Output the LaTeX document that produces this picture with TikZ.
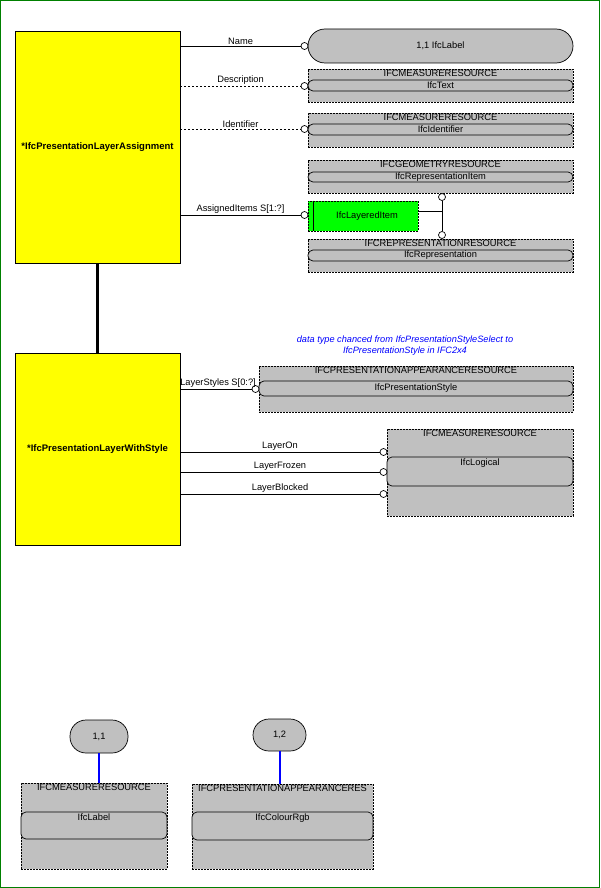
\documentclass[tikz,border=0pt]{standalone}
\usepackage{fontspec}
\setmainfont{Liberation Sans}
\usepackage{tikz}
\usetikzlibrary{calc}
\definecolor{ifcyellow}{RGB}{255,255,0}
\definecolor{ifcgray}{RGB}{192,192,192}
\definecolor{ifcgreen}{RGB}{0,255,0}
\definecolor{framegreen}{RGB}{0,128,0}
\definecolor{noteblue}{RGB}{0,0,255}
\tikzset{
         entity/.style={draw=black,fill=ifcyellow,line width=0.9pt,minimum width=165,inner sep=0,
                        font=\fontsize{9.5}{11}\selectfont\bfseries},
         typebox/.style={draw=black,fill=ifcgray,dash pattern=on 2pt off 1pt,line width=0.7pt,inner sep=0},
         hdr/.style={anchor=north,inner sep=1pt,font=\fontsize{9.3}{10}\selectfont},
         bar/.style={draw=black,fill=ifcgray,rounded corners=5,line width=0.7pt,inner sep=0,
                     font=\fontsize{9.3}{10}\selectfont},
         bartext/.style={anchor=north,inner sep=1.5pt,font=\fontsize{9.3}{10}\selectfont},
         pill/.style={draw=black,fill=ifcgray,line width=0.7pt,inner sep=0,font=\fontsize{9.3}{10}\selectfont},
         endpt/.style={circle,draw=black,fill=white,inner sep=0,minimum size=7,line width=0.7pt},
         attr/.style={above,inner sep=1.5pt,font=\fontsize{9.3}{10}\selectfont},
         rel/.style={line width=0.8pt},
         optrel/.style={line width=0.8pt,dash pattern=on 2pt off 2pt},
         card/.style={draw=noteblue,line width=2pt},
         note/.style={align=center,text=noteblue,inner sep=0,font=\fontsize{9.2}{11}\selectfont\itshape}
        }
\begin{document}
\begin{tikzpicture}[x=1pt,y=-1pt]
\useasboundingbox (0,0) rectangle (600,888);
\draw[framegreen,line width=1.2pt](0.6,0.6) rectangle (599.4,887.4);
\node[entity,minimum height=232] (assign) at (97.5,147) {*IfcPresentationLayerAssignment};
\node[entity,minimum height=192] (withstyle) at (97.5,449) {*IfcPresentationLayerWithStyle};
\draw[line width=3pt](assign.south)--(withstyle.north);
\node[pill,minimum width=265,minimum height=34,rounded corners=17] (namepill) at (440.5,46) {1,1 IfcLabel};
\node[typebox,minimum width=265,minimum height=33] (descbox) at (440.5,85.5) {};
\node[bar,minimum width=265,minimum height=11] (descbar) at (440.5,85.5) {IfcText};
\node[hdr] (deschdr) at (descbox.north) {IFCMEASURERESOURCE};
\node[typebox,minimum width=265,minimum height=34] (identbox) at (440.5,130) {};
\node[bar,minimum width=265,minimum height=11] (identbar) at (440.5,129.5) {IfcIdentifier};
\node[hdr] (identhdr) at (identbox.north) {IFCMEASURERESOURCE};
\node[typebox,minimum width=265,minimum height=33] (geombox) at (440.5,176.5) {};
\node[bar,minimum width=265,minimum height=10] (geombar) at (440.5,177) {IfcRepresentationItem};
\node[hdr] (geomhdr) at (geombox.north) {IFCGEOMETRYRESOURCE};
\node[typebox,minimum width=265,minimum height=33] (repbox) at (440.5,255.5) {};
\node[bar,minimum width=265,minimum height=11] (repbar) at (440.5,255.5) {IfcRepresentation};
\node[hdr] (rephdr) at (repbox.north) {IFCREPRESENTATIONRESOURCE};
\node[typebox,fill=ifcgreen,minimum width=110,minimum height=30] (layered) at (363,216) {};
\draw[rel]($(layered.north west)+(6,0)$)--($(layered.south west)+(6,0)$);
\node[font=\fontsize{9.3}{10}\selectfont] (layeredtxt) at (367,216) {IfcLayeredItem};
\node[endpt] (cname) at (304.5,46) {};
\node[endpt] (cdesc) at (304.5,86) {};
\node[endpt] (cident) at (304.5,129) {};
\node[endpt] (citems) at (304.5,215) {};
\node[endpt] (cgeom) at (442,197) {};
\node[endpt] (crep) at (442,235) {};
\coordinate (jn) at (442,211);
\draw[rel](assign.east |- cname)--node[attr]{Name}(cname.west);
\draw[optrel](assign.east |- cdesc)--node[attr]{Description}(cdesc.west);
\draw[optrel](assign.east |- cident)--node[attr]{Identifier}(cident.west);
\draw[rel](assign.east |- citems)--node[attr]{AssignedItems S[1:?]}(citems.west);
\draw[rel](layered.east |- jn)--(jn);
\draw[rel](cgeom)--(crep);
\node[note] (note) at (405,345.5) {data type chanced from IfcPresentationStyleSelect to\\IfcPresentationStyle in IFC2x4};
\node[typebox,minimum width=314,minimum height=46] (presbox) at (416,389) {};
\node[bar,minimum width=314,minimum height=15] (presbar) at (416,388.5) {IfcPresentationStyle};
\node[hdr] (preshdr) at (presbox.north) {IFCPRESENTATIONAPPEARANCERESOURCE};
\node[typebox,minimum width=186,minimum height=87] (logicbox) at (480,472.5) {};
\node[bar,minimum width=186,minimum height=29] (logicbar) at (480,471.5) {};
\node[bartext] (logictxt) at (logicbar.north) {IfcLogical};
\node[hdr] (logichdr) at (logicbox.north) {IFCMEASURERESOURCE};
\node[endpt] (cstyles) at (255.5,389) {};
\node[endpt] (con) at (383.5,452) {};
\node[endpt] (cfrozen) at (383.5,472) {};
\node[endpt] (cblocked) at (383.5,494) {};
\draw[rel](withstyle.east |- cstyles)--node[attr,xshift=2]{LayerStyles S[0:?]}(cstyles.west);
\draw[rel](withstyle.east |- con)--node[attr]{LayerOn}(con.west);
\draw[rel](withstyle.east |- cfrozen)--node[attr]{LayerFrozen}(cfrozen.west);
\draw[rel](withstyle.east |- cblocked)--node[attr]{LayerBlocked}(cblocked.west);
\node[pill,minimum width=58,minimum height=33,rounded corners=16] (card11) at (99,736.5) {1,1};
\node[typebox,minimum width=146,minimum height=86] (labelbox) at (94,826) {};
\node[bar,minimum width=146,minimum height=27] (labelbar) at (94,825.5) {};
\node[bartext] (labeltxt) at (labelbar.north) {IfcLabel};
\node[hdr] (labelhdr) at (labelbox.north) {IFCMEASURERESOURCE};
\draw[card](card11.south)--(card11.south |- labelbox.north);
\node[pill,minimum width=53,minimum height=32,rounded corners=16] (card12) at (279.5,735) {1,2};
\node[typebox,minimum width=181,minimum height=85] (colourbox) at (282.5,826.5) {};
\node[bar,minimum width=181,minimum height=28] (colourbar) at (282.5,826) {};
\node[bartext] (colourtxt) at (colourbar.north) {IfcColourRgb};
\node[hdr] (colourhdr) at (colourbox.north) {IFCPRESENTATIONAPPEARANCERES};
\draw[card](card12.south)--(card12.south |- colourbox.north);
\end{tikzpicture}
\end{document}
